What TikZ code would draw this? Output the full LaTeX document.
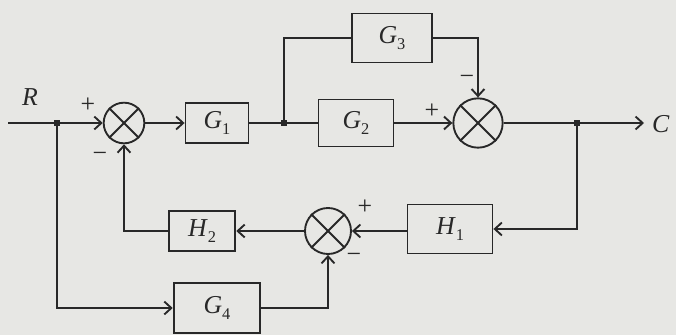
\documentclass[tikz,border=0pt]{standalone}
\usepackage{fontspec}
\setmainfont{Liberation Serif}
\usetikzlibrary{arrows.meta,calc}
\definecolor{paper}{RGB}{231,231,228}
\definecolor{ink}{RGB}{40,40,40}
% block label: italic letter with a lowered index
\newcommand\blk[2]{\textit{#1}\raisebox{-0.45ex}{\fontsize{14}{16}\selectfont #2}}
\tikzset{
  block/.style={draw=ink, line width=1.6pt, inner sep=0pt, text=ink,
    font=\fontsize{22}{26}\selectfont},
  summer/.style={draw=ink, circle, line width=1.6pt, inner sep=0pt},
  sig/.style={draw=ink, line width=1.6pt, -{Straight Barb[length=6pt,width=11pt]}},
  wire/.style={draw=ink, line width=1.6pt},
  junction/.style={fill=ink, minimum size=5pt, inner sep=0pt},
  sign/.style={text=ink, font=\fontsize{22}{24}\selectfont},
  lbl/.style={text=ink, font=\fontsize{22}{26}\selectfont\itshape},
}
\begin{document}
\begin{tikzpicture}[x=0.03cm,y=-0.03cm]
\fill[paper] (0,0) rectangle (676,335);
\useasboundingbox (0,0) rectangle (676,335);

% summing junctions
\node[summer, minimum size=1.22cm] (s1) at (124,123) {};
\node[summer, minimum size=1.48cm] (s2) at (478,123) {};
\node[summer, minimum size=1.38cm] (s3) at (328,231) {};
\foreach \s in {s1,s2,s3}{
  \draw[ink, line width=1.6pt] (\s.45) -- (\s.225);
  \draw[ink, line width=1.6pt] (\s.135) -- (\s.315);
}

% blocks
\node[block, minimum width=1.89cm, minimum height=1.2cm] (G1) at (217,123) {\blk{G}{1}};
\node[block, minimum width=2.25cm, minimum height=1.41cm] (G2) at (356,123) {\blk{G}{2}};
\node[block, minimum width=2.4cm, minimum height=1.47cm] (G3) at (392,38) {\blk{G}{3}};
\node[block, minimum width=2.55cm, minimum height=1.47cm] (H1) at (450,229) {\blk{H}{1}};
\node[block, minimum width=2.0cm, minimum height=1.2cm] (H2) at (202,231) {\blk{H}{2}};
\node[block, minimum width=2.6cm, minimum height=1.5cm] (G4) at (217,308) {\blk{G}{4}};

% branch points and terminals
\coordinate (in) at (8,123);
\node[junction] (jr) at (57,123) {};
\node[junction] (jb) at (284,123) {};
\node[junction] (jc) at (577,123) {};
\coordinate (out) at (644,123);
\node[lbl] (R) at (30,97) {R};
\node[lbl, anchor=west] (C) at (648,124) {C};

% forward path
\draw[wire] (in) -- (jr);
\draw[sig] (jr) -- (s1.west);
\draw[sig] (s1.east) -- (G1.west);
\draw[wire] (G1.east) -- (jb) -- (G2.west);
\draw[sig] (G2.east) -- (s2.west);
\draw[wire] (s2.east) -- (jc);
\draw[sig] (jc) -- (out);

% parallel branch through G3
\draw[wire] (jb) |- (G3.west);
\draw[sig] (G3.east) -| (s2.north);

% feedback loop
\draw[sig] (jc) |- (H1.east);
\draw[sig] (s3.east -| H1.west) -- (s3.east);
\draw[sig] (s3.west) -- (H2.east);
\draw[sig] (H2.west) -| (s1.south);

% feed-forward through G4
\draw[sig] (jr) |- (G4.west);
\draw[sig] (G4.east) -| (s3.south);

% signs
\node[sign] (p1) at (88,105) {+};
\node[sign] (m1) at (100,157) {−};
\node[sign] (p2) at (432,111) {+};
\node[sign] (m2) at (467,80) {−};
\node[sign] (p3) at (365,207) {+};
\node[sign] (m3) at (354,258) {−};
\end{tikzpicture}
\end{document}
